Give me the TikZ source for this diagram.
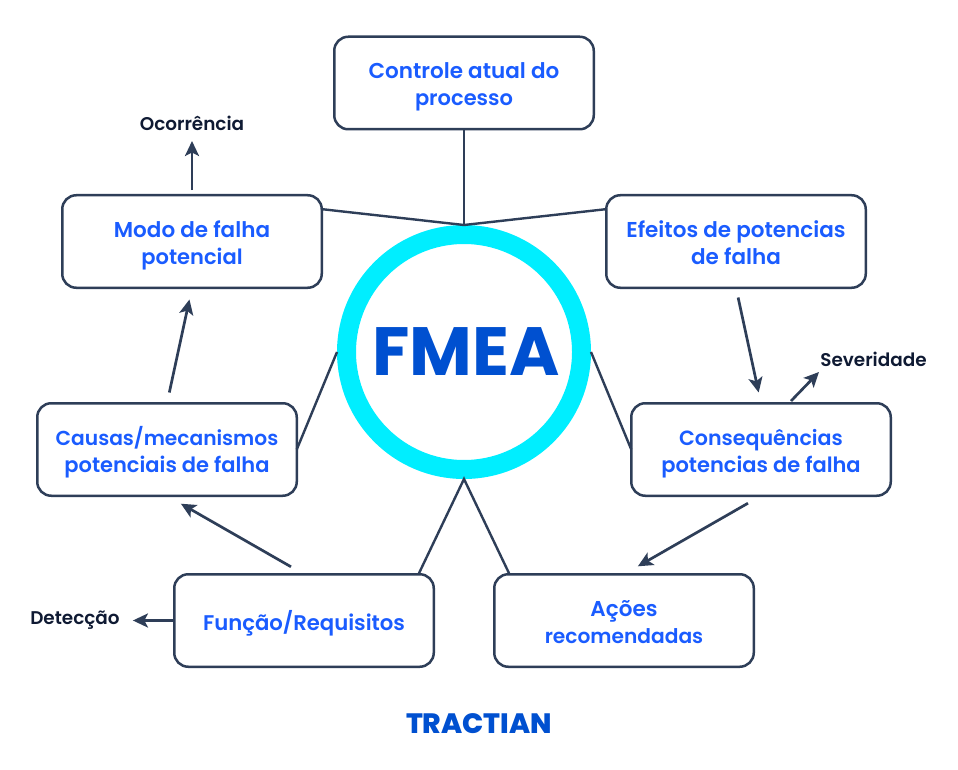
\documentclass[tikz,border=0pt]{standalone}
\usepackage{fontspec}
\setmainfont{Poppins}[BoldFont={Poppins SemiBold}]
\newfontfamily\heavyfont{Poppins}[UprightFont={* Bold}]
\newfontfamily\logofont{Poppins}[UprightFont={* ExtraBold}]
\usetikzlibrary{arrows.meta,calc}
\definecolor{linecol}{HTML}{2E3E58}
\definecolor{boxtext}{HTML}{1A5CFF}
\definecolor{labeltext}{HTML}{0F1A33}
\definecolor{ringcol}{HTML}{00EEFF}
\definecolor{fmeacol}{HTML}{0050D0}
\newcommand{\boxlines}[1]{\raisebox{-4pt}[\height][\depth]{\begin{tabular}{@{}c@{}}#1\end{tabular}}}
\newcommand{\sized}[2]{{\fontsize{#1}{27}\selectfont #2}}
\tikzset{
  x=1pt,y=-1pt,
  boxnode/.style={draw=linecol,line width=2.5pt,rounded corners=14pt,minimum width=259.5pt,minimum height=92.5pt,
    align=center,text=boxtext,font=\fontsize{21.5}{27}\selectfont\bfseries,inner sep=0pt,outer sep=0pt},
  labelnode/.style={text=labeltext,font=\fontsize{18.4}{22}\selectfont\bfseries,inner sep=0pt},
  plainline/.style={draw=linecol,line width=2.4pt},
  arrowline/.style={draw=linecol,line width=2.7pt,-{Stealth[length=15pt,width=14pt,inset=3.5pt]}},
}
\begin{document}
\begin{tikzpicture}
\useasboundingbox (0,0) rectangle (958,770);
\fill[white] (0,0) rectangle (958,770);
\node[boxnode] (controle) at (464,83) {\boxlines{Controle atual do\\\sized{21}{processo}}};
\node[boxnode] (modo) at (192,241.5) {\boxlines{Modo de falha\\\sized{21}{potencial}}};
\node[boxnode] (efeitos) at (736,241.5) {\boxlines{Efeitos de potencias\\de falha}};
\node[boxnode] (causas) at (167,449.5) {\boxlines{\sized{20.2}{Causas/mecanismos}\\\sized{21}{potenciais de falha}}};
\node[boxnode] (conseq) at (761,449.5) {\boxlines{\sized{20.6}{Consequências}\\\sized{21}{potencias de falha}}};
\node[boxnode] (funcao) at (304,620.5) {\boxlines{\sized{21.2}{Função/Requisitos}}};
\node[boxnode] (acoes) at (624,620.5) {\boxlines{Ações\\\sized{20.2}{recomendadas}}};
\node[circle,draw=ringcol,line width=19pt,minimum size=235pt,inner sep=0pt,text=fmeacol,
  font=\fontsize{68.3}{69}\selectfont\heavyfont] (fmea) at (464,352) {\hspace*{3.5pt}FMEA};
\node[labelnode] (ocorrencia) at (192,123.5) {Ocorrência};
\node[labelnode] (severidade) at (873.5,359.5) {Severidade};
\node[labelnode] (deteccao) at (75,620.5) {Detecção};
\node[text=fmeacol,inner sep=0pt,font=\fontsize{28}{28}\selectfont\logofont] (logo) at (479,724) {TRACTIAN};
\coordinate (sevstart) at (791,401);
\coordinate (sevend) at (819,372);
% plain connectors
\draw[plainline] (controle.south) -- (fmea.north);
\draw[plainline] (modo.14) -- (fmea.north) -- (efeitos.166);
\draw[plainline] (causas.east) -- (fmea.west);
\draw[plainline] (conseq.west) -- (fmea.east);
\draw[plainline] (funcao.22) -- (fmea.south) -- (acoes.158);
% arrows
\draw[arrowline,shorten <=5pt,shorten >=10pt] (modo.north) -- (ocorrencia.south);
\draw[arrowline,shorten <=11pt,shorten >=12pt] (causas.north) -- (modo.south);
\draw[arrowline,shorten <=15pt,shorten >=16pt] (funcao.north) -- (causas.south);
\draw[arrowline,shorten <=15pt,shorten >=16pt] (conseq.south) -- (acoes.north);
\draw[arrowline,shorten <=10pt,shorten >=11pt] (efeitos.south) -- (conseq.north);
\draw[arrowline] (sevstart) -- (sevend);
\draw[arrowline,shorten >=13pt] (funcao.west) -- (deteccao.east);
\end{tikzpicture}
\end{document}
